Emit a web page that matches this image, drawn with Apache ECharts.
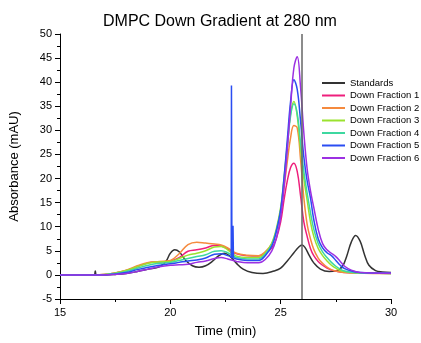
<!DOCTYPE html>
<html>
<head>
<meta charset="utf-8">
<script src="https://cdn.jsdelivr.net/npm/echarts@6/dist/echarts.min.js"></script>
<style>html,body{margin:0;padding:0;background:#fff}#c{width:421px;height:343px}</style>
</head>
<body>
<div id="c"></div>
<script>
const titleText = 'DMPC Down Gradient at 280 nm';
const xName = 'Time (min)';
const yName = 'Absorbance (mAU)';
const seriesNames = ['Standards','Down Fraction 1','Down Fraction 2','Down Fraction 3','Down Fraction 4','Down Fraction 5','Down Fraction 6'];
const seriesColors = ['#333333','#ee1f7c','#f58a3e','#9be22e','#3ed8a0','#2a4df2','#9c30e2'];

const standardsTimes = [15,16,16.55,16.6,16.65,17,17.5,18,18.5,19,19.5,19.8,20.0,20.2,20.4,20.7,21.0,21.3,21.6,21.9,22.2,22.45,22.7,23.0,23.3,23.7,24.2,24.7,25.0,25.3,25.6,25.8,25.97,26.1,26.3,26.5,26.8,27.2,27.5,27.8,28.0,28.2,28.4,28.6,28.8,29.0,29.3,29.6,30];
const standardsValues = [0,0,0,0.8,0,0,0.1,0.3,0.7,1.2,1.7,2.8,4.5,5.2,4.8,3.0,1.9,1.6,1.9,2.8,4.0,4.5,3.9,2.4,1.2,0.5,0.3,0.8,1.4,2.9,4.6,5.7,6.2,5.7,4.0,2.5,1.2,0.7,0.8,1.8,4.0,6.8,8.2,7.0,4.2,2.0,0.9,0.6,0.5];
const standardsSpikeTime = 25.97;

const fractionTimes = [15,16,17,17.5,18,18.5,19,19.5,20,20.4,20.8,21.2,21.6,22,22.3,22.6,23,23.5,24,24.3,24.6,24.8,25.0,25.15,25.3,25.45,25.6,25.75,25.9,26.05,26.2,26.35,26.5,26.7,26.9,27.1,27.3,27.5,27.7,27.9,28.2,28.6,29.2,30];
const fraction1 = [0,0,0.1,0.4,0.9,1.7,2.5,2.7,2.9,3.6,4.9,5.2,5.6,6.1,6.0,5.4,4.4,4.0,3.9, 4.4,5.6,7.5,11,15.5,19.5,22.3,23.2,21.5,16.5,11,8,5.5,4.0,2.8,2.0,1.4,1.0,0.8,0.6,0.5,0.45,0.4,0.35,0.3];
const fraction2 = [0,0,0.1,0.4,1.0,1.9,2.6,2.8,3.0,4.4,6.3,6.8,6.6,6.4,6.2,5.6,4.5,4.1,4.0, 4.8,6.5,9,13,18,23.5,28.5,31,30.5,24,16,10.5,7.5,5.3,3.5,2.4,1.6,1.1,0.8,0.6,0.5,0.4,0.35,0.3,0.3];
const fraction3 = [0,0,0.1,0.4,0.9,1.7,2.4,2.7,2.8,3.4,4.1,4.5,5.0,5.8,5.9,5.2,3.9,3.6,3.6, 4.5,6.6,9.5,14,20,27,33.5,36,33,26,20,15.5,11,8,5.5,4.0,2.9,2.0,1.4,0.9,0.7,0.5,0.4,0.35,0.3];
const fraction4 = [0,0,0.05,0.3,0.7,1.4,2.0,2.4,2.6,3.0,3.4,3.8,4.2,4.9,5.0,4.6,3.6,3.3,3.3, 4.3,6.3,9.2,13.5,19.5,26.5,33,35.5,33.5,27.5,21.5,17,13,9.5,6.5,4.8,3.6,2.6,1.8,1.2,0.8,0.55,0.4,0.35,0.3];
const fraction5 = [0,0,0,0.2,0.5,1.1,1.6,2.0,2.3,2.6,2.9,3.1,3.5,4.3,4.4,4.0,3.3,3.0,3.0, 4.0,6.0,9,13.5,20,28,36,40.5,38.5,32,24.5,19.5,16,11.5,7.5,5.6,4.6,4.0,3.0,2.0,1.3,0.8,0.5,0.4,0.4];
const fraction6 = [0,0,0,0.1,0.3,0.7,1.2,1.7,2.0,2.1,2.2,2.6,2.9,3.4,3.6,3.3,2.8,2.5,2.5, 3.2,5.0,7.5,12,18,26,35,43,45.3,39,29.5,22,17.5,14,9.5,6.5,5.2,4.5,3.8,2.8,1.8,1.0,0.5,0.4,0.35];
const fraction5SpikeTimes = [22.76,22.77,22.78,22.79,22.8,22.84,22.85,22.86,22.87];
const fraction5SpikeValues = [3.7,39.3,39.3,3.7,3.6,10.2,10.2,3.6,3.5];

const xTicks = {min:15, max:30, interval:5};
const yTicks = {min:-5, max:50, interval:5};

const zip = (xs, ys) => xs.map((x, i) => [x, ys[i]]);
const FONT = 'Liberation Sans, Arial, sans-serif';

const fractions = [fraction1, fraction2, fraction3, fraction4, fraction5, fraction6];
const series = [{
  name: seriesNames[0], type: 'line', data: zip(standardsTimes, standardsValues),
  smooth: 0.4, showSymbol: false, symbol: 'none', clip: true,
  lineStyle: {width: 1.5, color: seriesColors[0]}, itemStyle: {color: seriesColors[0]},
  markLine: {silent: true, symbol: ['none','none'], label: {show: false},
    lineStyle: {color: '#666666', width: 1.5, type: 'solid'},
    data: [{xAxis: standardsSpikeTime}]}
}];
fractions.forEach((vals, i) => {
  series.push({
    name: seriesNames[i+1], type: 'line', data: zip(fractionTimes, vals),
    smooth: 0.4, showSymbol: false, symbol: 'none', clip: true,
    lineStyle: {width: 1.5, color: seriesColors[i+1]}, itemStyle: {color: seriesColors[i+1]}
  });
});
series.push({
  name: seriesNames[5], type: 'line', data: zip(fraction5SpikeTimes, fraction5SpikeValues),
  smooth: false, showSymbol: false, symbol: 'none', clip: true,
  lineStyle: {width: 1.5, color: seriesColors[5]}, itemStyle: {color: seriesColors[5]}
});

const axisCommon = {
  axisLine: {show: true, onZero: false, lineStyle: {color: '#000', width: 1}},
  axisTick: {show: true, inside: false, length: 5, lineStyle: {color: '#000'}},
  minorTick: {show: true, splitNumber: 2, length: 3, lineStyle: {color: '#000'}},
  splitLine: {show: false},
  axisLabel: {color: '#000', fontSize: 11, fontFamily: FONT},
  nameLocation: 'middle',
  nameTextStyle: {color: '#000', fontSize: 13, fontFamily: FONT}
};

const chart = echarts.init(document.getElementById('c'), null, {renderer: 'canvas'});
chart.setOption({
  animation: false,
  backgroundColor: '#fff',
  title: {text: titleText, left: 98, top: 9,
    textStyle: {fontSize: 16, fontWeight: 'normal', color: '#000', fontFamily: FONT}},
  grid: {left: 60, right: 30, top: 34, bottom: 41},
  legend: {
    orient: 'vertical', left: 317, top: 73, padding: 5, itemWidth: 23, itemHeight: 10, itemGap: 2.5,
    data: seriesNames,
    textStyle: {fontSize: 9.5, lineHeight: 10, color: '#000', fontFamily: FONT},
    icon: 'path://M0,4 L23,4 L23,6 L0,6 Z'
  },
  xAxis: Object.assign({type: 'value', name: xName, nameGap: 26,
    min: xTicks.min, max: xTicks.max, interval: xTicks.interval}, axisCommon,
    {axisLabel: Object.assign({}, axisCommon.axisLabel, {margin: 8})}),
  yAxis: Object.assign({type: 'value', name: yName, nameGap: 39,
    min: yTicks.min, max: yTicks.max, interval: yTicks.interval}, axisCommon,
    {axisLabel: Object.assign({}, axisCommon.axisLabel, {margin: 8})}),
  series: series
});
</script>
</body>
</html>
